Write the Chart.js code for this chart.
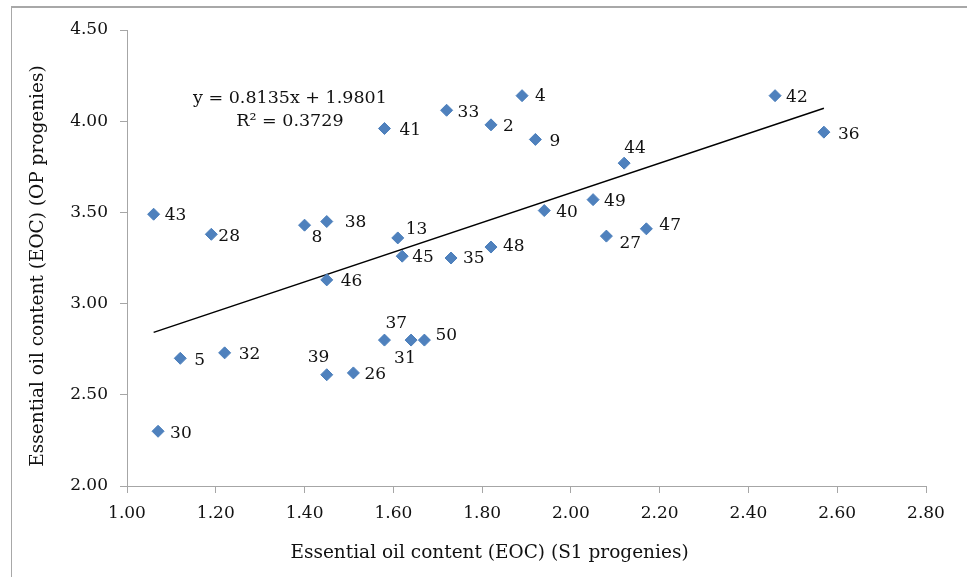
<!DOCTYPE html>
<html>
<head>
<meta charset="utf-8">
<script src="https://cdn.jsdelivr.net/npm/chart.js@4.4.1/dist/chart.umd.min.js"></script>
<style>
  html, body { margin: 0; padding: 0; background: #fff; }
  #wrap { position: relative; width: 967px; height: 577px; }
  #frame { position: absolute; left: 11px; top: 6px; right: 0; bottom: 0;
           border-top: 2px solid #a8a8a8; border-left: 1.5px solid #a8a8a8; pointer-events: none; }
</style>
</head>
<body>
<div id="wrap">
  <canvas id="eocChart" width="967" height="577"></canvas>
  <div id="frame"></div>
</div>
<script>
// progeny numbers (point labels)
var progenies = ['43', '28', '8', '38', '41', '13', '45', '33', '4', '2',
                 '9', '42', '36', '44', '49', '40', '27', '47', '48', '35',
                 '46', '37', '31', '50', '39', '26', '5', '32', '30'];
// EOC of S1 progenies (x)
var eocS1 = [1.06, 1.19, 1.40, 1.45, 1.58, 1.61, 1.62, 1.72, 1.89, 1.82,
             1.92, 2.46, 2.57, 2.12, 2.05, 1.94, 2.08, 2.17, 1.82, 1.73,
             1.45, 1.58, 1.64, 1.67, 1.45, 1.51, 1.12, 1.22, 1.07];
// EOC of OP progenies (y)
var eocOP = [3.49, 3.38, 3.43, 3.45, 3.96, 3.36, 3.26, 4.06, 4.14, 3.98,
             3.90, 4.14, 3.94, 3.77, 3.57, 3.51, 3.37, 3.41, 3.31, 3.25,
             3.13, 2.80, 2.80, 2.80, 2.61, 2.62, 2.70, 2.73, 2.30];

// linear trendline as printed on the chart
var slope = 0.8135;
var intercept = 1.9801;
var rSquared = 0.3729;

// label offsets from the marker, in px (left edge, vertical centre)
var labelOffsets = [[11, 1], [7, 2], [7, 12], [18, 1], [15, 2], [8, -8], [10, 1], [11, 2], [13, 1], [12, 2],
                    [14, 2], [11, 2], [14, 2], [0, -15], [11, 2], [12, 2], [13, 7], [13, -3], [12, 0], [12, 1],
                    [14, 2], [1, -17], [-17, 18], [11, -5], [-19, -17], [11, 2], [14, 2], [14, 2], [12, 2]];

var serif = "'DejaVu Serif', serif";
var axisGray = '#a6a6a6';

var points = eocS1.map(function (x, i) { return { x: x, y: eocOP[i] }; });
var xMin = Math.min.apply(null, eocS1);
var xMax = Math.max.apply(null, eocS1);
var trend = [
    { x: xMin, y: slope * xMin + intercept },
    { x: xMax, y: slope * xMax + intercept }
];

var labelPlugin = {
    id: 'labelPlugin',
    afterDatasetsDraw: function (chart) {
        var ctx = chart.ctx;
        var meta = chart.getDatasetMeta(1);
        ctx.save();
        ctx.fillStyle = '#111';
        ctx.font = '17px ' + serif;
        ctx.textAlign = 'left';
        ctx.textBaseline = 'middle';
        meta.data.forEach(function (pt, i) {
            var off = labelOffsets[i];
            ctx.fillText(progenies[i], pt.x + off[0], pt.y + off[1]);
        });

        // trendline equation
        var sx = chart.scales.x, sy = chart.scales.y;
        ctx.textAlign = 'center';
        ctx.font = '17.5px ' + serif;
        ctx.fillText('y = ' + slope.toFixed(4) + 'x + ' + intercept.toFixed(4), sx.getPixelForValue(1.367), sy.getPixelForValue(4.127));
        ctx.fillText('R\u00b2 = ' + rSquared.toFixed(4), sx.getPixelForValue(1.367), sy.getPixelForValue(4.0));

        // axis titles
        ctx.font = '18.5px ' + serif;
        ctx.fillText('Essential oil content (EOC) (S1 progenies)', chart.width / 2 + 6, 553);
        ctx.translate(38, 266);
        ctx.rotate(-Math.PI / 2);
        ctx.fillText('Essential oil content (EOC) (OP progenies)', 0, 0);
        ctx.restore();
    }
};

var ctx = document.getElementById('eocChart').getContext('2d');
var myChart = new Chart(ctx, {
    type: 'scatter',
    data: {
        datasets: [{
            type: 'line',
            label: 'Linear trend',
            data: trend,
            borderColor: '#000',
            borderWidth: 1.5,
            pointRadius: 0,
            fill: false,
            order: 2
        }, {
            label: 'EOC',
            data: points,
            pointStyle: 'rectRot',
            pointRadius: 6,
            backgroundColor: '#4F81BD',
            borderColor: '#4A7EBB',
            borderWidth: 1,
            order: 1
        }]
    },
    options: {
        responsive: false,
        animation: false,
        devicePixelRatio: 1,
        layout: { padding: { left: 0, top: 30, right: 41, bottom: 0 } },
        plugins: {
            legend: { display: false },
            tooltip: { enabled: false }
        },
        scales: {
            x: {
                type: 'linear',
                min: 1,
                max: 2.8,
                ticks: {
                    stepSize: 0.2,
                    color: '#111',
                    font: { family: serif, size: 17 },
                    padding: 10,
                    callback: function (v) { return v.toFixed(2); }
                },
                grid: { drawOnChartArea: false, drawTicks: true, tickLength: 7, color: axisGray },
                border: { color: axisGray, width: 1 },
                afterFit: function (scale) { scale.height = 91; }
            },
            y: {
                type: 'linear',
                min: 2,
                max: 4.5,
                ticks: {
                    stepSize: 0.5,
                    color: '#111',
                    font: { family: serif, size: 17 },
                    padding: 12,
                    callback: function (v) { return v.toFixed(2); }
                },
                grid: { drawOnChartArea: false, drawTicks: true, tickLength: 7, color: axisGray },
                border: { color: axisGray, width: 1 },
                afterFit: function (scale) { scale.width = 127; }
            }
        }
    },
    plugins: [labelPlugin]
});
</script>
</body>
</html>
